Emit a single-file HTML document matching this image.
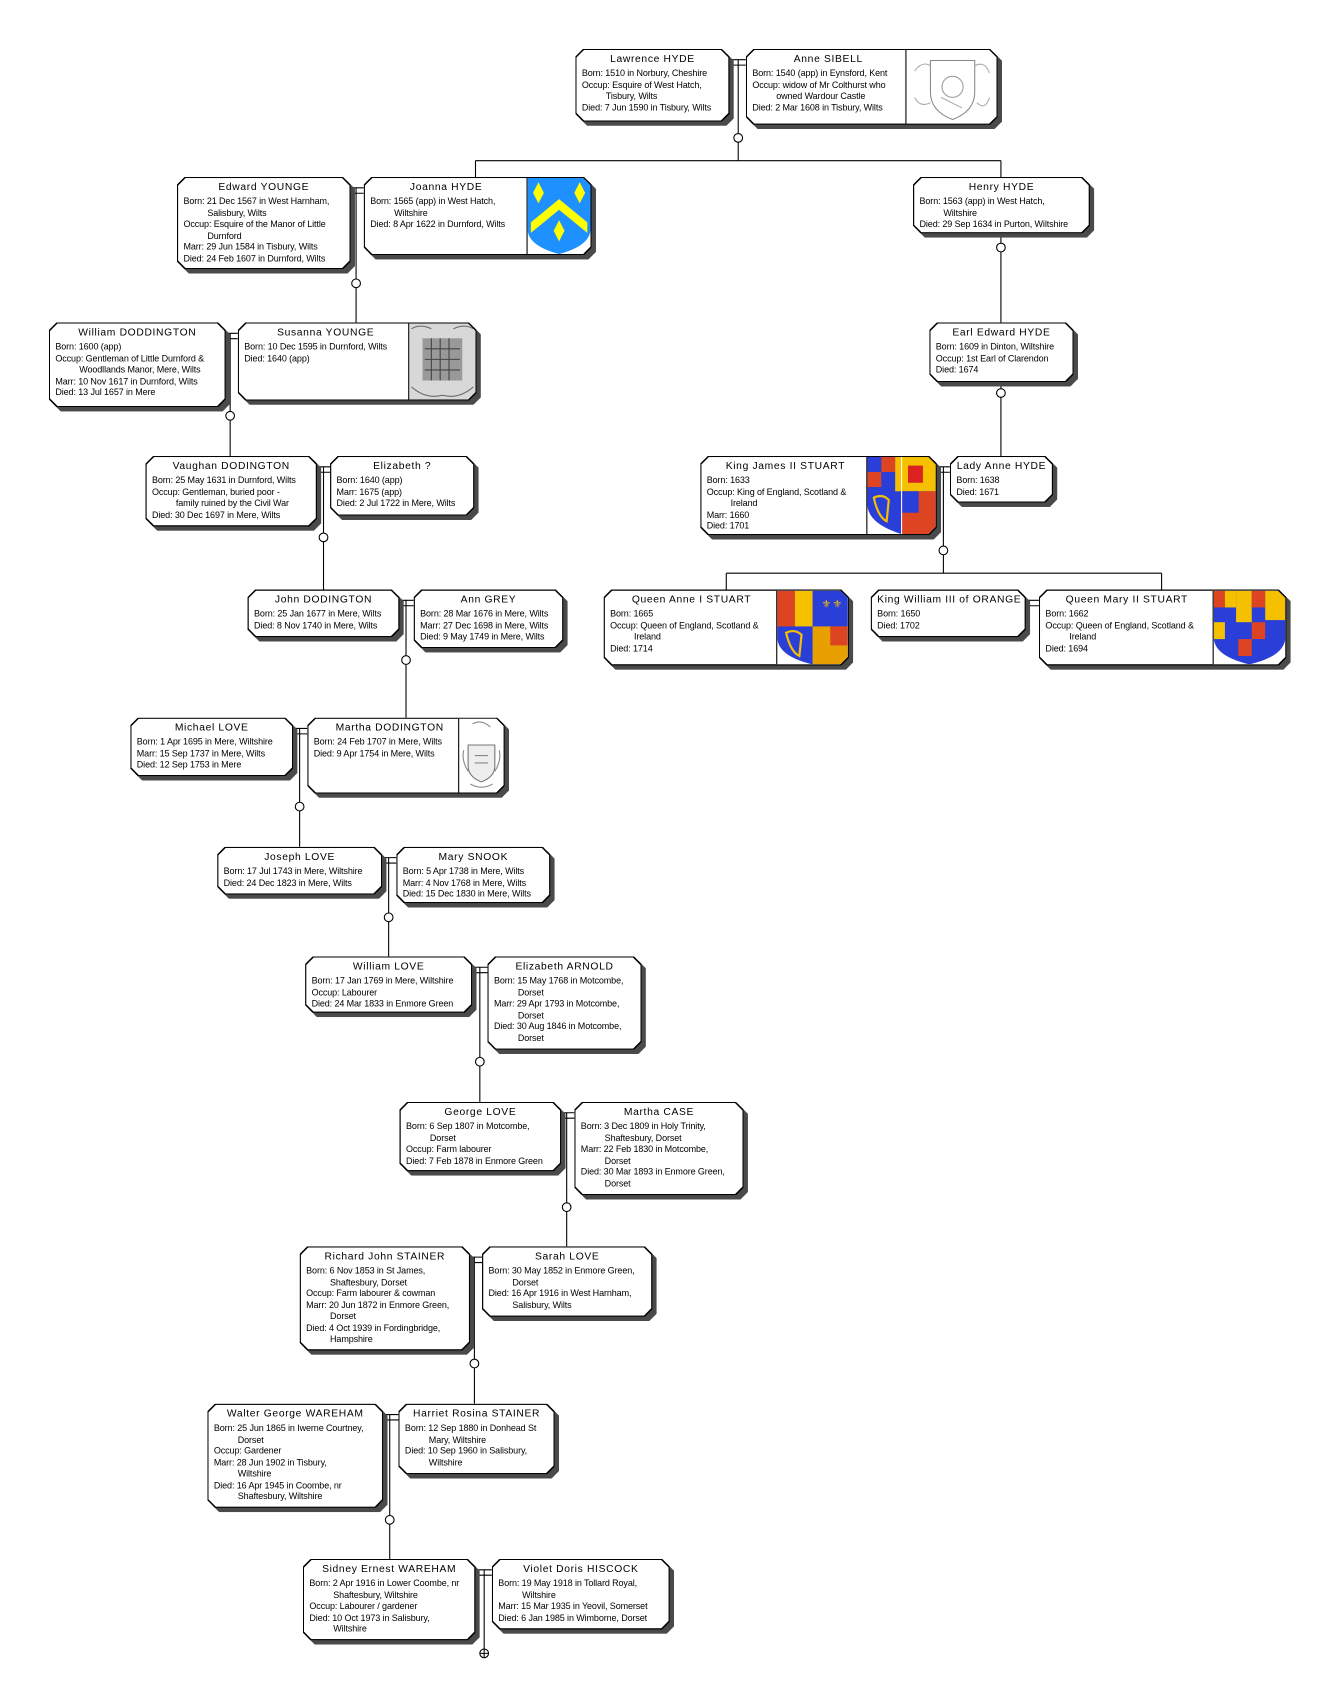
<!DOCTYPE html>
<html><head><meta charset="utf-8"><style>
body{margin:0;background:#fff;width:1332px;height:1702px;overflow:hidden}
#c{position:absolute;left:0;top:0;width:1227px;height:1568px;transform:scale(1.0856);transform-origin:0 0;font-family:"Liberation Sans",Arial,sans-serif;color:#000}
.w{position:absolute}
.s,.b,.i{position:absolute;clip-path:polygon(7px 0,calc(100% - 7px) 0,100% 7px,100% calc(100% - 7px),calc(100% - 7px) 100%,7px 100%,0 calc(100% - 7px),0 7px)}
.s{left:4px;top:4px;right:-4px;bottom:-4px;background:#4a4a4a}
.b{left:0;top:0;right:0;bottom:0;background:#000}
.i{left:1px;top:1px;right:1px;bottom:1px;background:#fff;padding:3px 5px;box-sizing:border-box}
.t{font-size:9.5px;letter-spacing:.6px;text-align:center;line-height:12px;margin-bottom:1px;white-space:nowrap}
.l{font-size:8.3px;line-height:10.5px;white-space:nowrap;letter-spacing:-.1px}
.c{padding-left:22px}
.im{position:absolute;top:0;right:0;bottom:0;border-left:1px solid #000;background:#fff;overflow:hidden}
.im svg{width:100%;height:100%}
svg.cn{position:absolute;left:0;top:0}
</style></head><body><div id="c">
<svg class="cn" width="1227" height="1568" fill="none" stroke="#000" stroke-width="1">
<!-- Lawrence/Anne -->
<path d="M672 55H687M672 60H687M680 55V123M680 131V148M438 148H922M438 148V163M922 148V163"/><circle cx="680" cy="127" r="4" fill="#fff"/>
<path d="M323 173H335M323 178H335M328 173V257M328 265V297"/><circle cx="328" cy="261" r="4" fill="#fff"/>
<path d="M208 307H219M208 312H219M212 307V379M212 387V420"/><circle cx="212" cy="383" r="4" fill="#fff"/>
<path d="M922 215V224M922 232V297"/><circle cx="922" cy="228" r="4" fill="#fff"/>
<path d="M922 352V358M922 366V420"/><circle cx="922" cy="362" r="4" fill="#fff"/>
<path d="M292 430H304M292 435H304M298 430V491M298 499V543"/><circle cx="298" cy="495" r="4" fill="#fff"/>
<path d="M863 430H875M863 435H875M869 430V503M869 511V528M669 528H1070M669 528V543M1070 528V543"/><circle cx="869" cy="507" r="4" fill="#fff"/>
<path d="M945 553H957M945 558H957"/>
<path d="M368 553H381M368 558H381M374 553V604M374 612V661"/><circle cx="374" cy="608" r="4" fill="#fff"/>
<path d="M270 671H283M270 676H283M276 671V739M276 747V780"/><circle cx="276" cy="743" r="4" fill="#fff"/>
<path d="M352 790H365M352 795H365M358 790V841M358 849V881"/><circle cx="358" cy="845" r="4" fill="#fff"/>
<path d="M435 891H449M435 896H449M442 891V974M442 982V1015"/><circle cx="442" cy="978" r="4" fill="#fff"/>
<path d="M517 1025H529M517 1030H529M522 1025V1108M522 1116V1148"/><circle cx="522" cy="1112" r="4" fill="#fff"/>
<path d="M433 1158H444M433 1163H444M437 1158V1252M437 1260V1293"/><circle cx="437" cy="1256" r="4" fill="#fff"/>
<path d="M353 1303H367M353 1308H367M359 1303V1396M359 1404V1436"/><circle cx="359" cy="1400" r="4" fill="#fff"/>
<path d="M438 1446H453M438 1451H453M446 1446V1519"/><circle cx="446" cy="1523" r="4" fill="#fff"/><path d="M442 1523H450M446 1519V1527"/>
</svg>

<div class="w" style="left:530px;top:45px;width:142px;height:67px"><div class="s"></div><div class="b"><div class="i">
<div class="t">Lawrence HYDE</div><div class="l">Born: 1510 in Norbury, Cheshire</div><div class="l">Occup: Esquire of West Hatch,</div><div class="l c">Tisbury, Wilts</div><div class="l">Died: 7 Jun 1590 in Tisbury, Wilts</div></div></div></div>

<div class="w" style="left:687px;top:45px;width:232px;height:70px"><div class="s"></div><div class="b"><div class="i">
<div class="t" style="width:140px">Anne SIBELL</div><div class="l">Born: 1540 (app) in Eynsford, Kent</div><div class="l">Occup: widow of Mr Colthurst who</div><div class="l c">owned Wardour Castle</div><div class="l">Died: 2 Mar 1608 in Tisbury, Wilts</div>
<div class="im" style="width:83px"><svg viewBox="0 0 80 70"><path d="M20 10H62V40Q62 58 41 66Q20 58 20 40Z" stroke="#888" fill="none"/><circle cx="41" cy="35" r="10" stroke="#999" fill="none"/><path d="M5 20Q12 10 20 15M62 15Q72 10 76 22M5 45Q10 55 20 50M64 50Q72 58 76 45M30 45L50 55" stroke="#aaa" fill="none"/></svg></div></div></div></div>

<div class="w" style="left:163px;top:163px;width:160px;height:85px"><div class="s"></div><div class="b"><div class="i">
<div class="t">Edward YOUNGE</div><div class="l">Born: 21 Dec 1567 in West Harnham,</div><div class="l c">Salisbury, Wilts</div><div class="l">Occup: Esquire of the Manor of Little</div><div class="l c">Durnford</div><div class="l">Marr: 29 Jun 1584 in Tisbury, Wilts</div><div class="l">Died: 24 Feb 1607 in Durnford, Wilts</div></div></div></div>

<div class="w" style="left:335px;top:163px;width:210px;height:72px"><div class="s"></div><div class="b"><div class="i">
<div class="t" style="width:140px">Joanna HYDE</div><div class="l">Born: 1565 (app) in West Hatch,</div><div class="l c">Wiltshire</div><div class="l">Died: 8 Apr 1622 in Durnford, Wilts</div>
<div class="im" style="width:58px"><svg viewBox="0 0 58 72" preserveAspectRatio="none"><path d="M0 0H58V48Q58 64 29 72Q0 64 0 48Z" fill="#1e90ff"/><path d="M3 42L29 20L55 42L55 52L29 30L3 52Z" fill="#ff0"/><path d="M10 4L15 14L10 24L5 14Z M48 4L53 14L48 24L43 14Z M29 40L34 50L29 60L24 50Z" fill="#ff0"/></svg></div></div></div></div>

<div class="w" style="left:841px;top:163px;width:163px;height:52px"><div class="s"></div><div class="b"><div class="i">
<div class="t">Henry HYDE</div><div class="l">Born: 1563 (app) in West Hatch,</div><div class="l c">Wiltshire</div><div class="l">Died: 29 Sep 1634 in Purton, Wiltshire</div></div></div></div>

<div class="w" style="left:45px;top:297px;width:163px;height:78px"><div class="s"></div><div class="b"><div class="i">
<div class="t">William DODDINGTON</div><div class="l">Born: 1600 (app)</div><div class="l">Occup: Gentleman of Little Durnford &amp;</div><div class="l c">Woodllands Manor, Mere, Wilts</div><div class="l">Marr: 10 Nov 1617 in Durnford, Wilts</div><div class="l">Died: 13 Jul 1657 in Mere</div></div></div></div>

<div class="w" style="left:219px;top:297px;width:220px;height:72px"><div class="s"></div><div class="b"><div class="i">
<div class="t" style="width:150px">Susanna YOUNGE</div><div class="l">Born: 10 Dec 1595 in Durnford, Wilts</div><div class="l">Died: 1640 (app)</div>
<div class="im" style="width:61px"><svg viewBox="0 0 60 72" preserveAspectRatio="none"><rect width="60" height="72" fill="#d8d8d8"/><rect x="12" y="14" width="36" height="40" fill="#999"/><path d="M14 24h32M14 34h32M14 44h32M20 14v40M28 14v40M36 14v40" stroke="#444"/><path d="M2 5Q10 0 20 5M40 5Q50 0 58 5M2 60Q15 72 30 68Q45 72 58 60" stroke="#666" fill="none"/></svg></div></div></div></div>

<div class="w" style="left:856px;top:297px;width:133px;height:55px"><div class="s"></div><div class="b"><div class="i">
<div class="t">Earl Edward HYDE</div><div class="l">Born: 1609 in Dinton, Wiltshire</div><div class="l">Occup: 1st Earl of Clarendon</div><div class="l">Died: 1674</div></div></div></div>

<div class="w" style="left:134px;top:420px;width:158px;height:65px"><div class="s"></div><div class="b"><div class="i">
<div class="t">Vaughan DODINGTON</div><div class="l">Born: 25 May 1631 in Durnford, Wilts</div><div class="l">Occup: Gentleman, buried poor -</div><div class="l c">family ruined by the Civil War</div><div class="l">Died: 30 Dec 1697 in Mere, Wilts</div></div></div></div>

<div class="w" style="left:304px;top:420px;width:133px;height:55px"><div class="s"></div><div class="b"><div class="i">
<div class="t">Elizabeth ?</div><div class="l">Born: 1640 (app)</div><div class="l">Marr: 1675 (app)</div><div class="l">Died: 2 Jul 1722 in Mere, Wilts</div></div></div></div>

<div class="w" style="left:645px;top:420px;width:218px;height:73px"><div class="s"></div><div class="b"><div class="i">
<div class="t" style="width:145px">King James II STUART</div><div class="l">Born: 1633</div><div class="l">Occup: King of England, Scotland &amp;</div><div class="l c">Ireland</div><div class="l">Marr: 1660</div><div class="l">Died: 1701</div>
<div class="im" style="width:63px"><svg viewBox="0 0 64 72" preserveAspectRatio="none"><path d="M0 0H64V44Q64 62 32 72Q0 62 0 44Z" fill="#2a3fd8"/><rect x="0" y="0" width="13" height="14" fill="#2a3fd8"/><rect x="13" y="0" width="13" height="14" fill="#d42"/><rect x="0" y="14" width="13" height="14" fill="#d42"/><rect x="26" y="0" width="38" height="32" fill="#f5c000"/><path d="M38 8h14v16h-14z" fill="#d22"/><rect x="32" y="32" width="32" height="40" fill="#d42"/><rect x="32" y="32" width="16" height="20" fill="#2a3fd8"/><path d="M6 38Q14 34 20 40L18 60Q10 56 6 38Z" stroke="#f5c000" fill="none" stroke-width="2"/><path d="M32 72V0" stroke="#fff"/></svg></div></div></div></div>

<div class="w" style="left:875px;top:420px;width:95px;height:43px"><div class="s"></div><div class="b"><div class="i">
<div class="t">Lady Anne HYDE</div><div class="l">Born: 1638</div><div class="l">Died: 1671</div></div></div></div>

<div class="w" style="left:228px;top:543px;width:140px;height:44px"><div class="s"></div><div class="b"><div class="i">
<div class="t">John DODINGTON</div><div class="l">Born: 25 Jan 1677 in Mere, Wilts</div><div class="l">Died: 8 Nov 1740 in Mere, Wilts</div></div></div></div>

<div class="w" style="left:381px;top:543px;width:138px;height:54px"><div class="s"></div><div class="b"><div class="i">
<div class="t">Ann GREY</div><div class="l">Born: 28 Mar 1676 in Mere, Wilts</div><div class="l">Marr: 27 Dec 1698 in Mere, Wilts</div><div class="l">Died: 9 May 1749 in Mere, Wilts</div></div></div></div>

<div class="w" style="left:556px;top:543px;width:226px;height:70px"><div class="s"></div><div class="b"><div class="i">
<div class="t" style="width:150px">Queen Anne I STUART</div><div class="l">Born: 1665</div><div class="l">Occup: Queen of England, Scotland &amp;</div><div class="l c">Ireland</div><div class="l">Died: 1714</div>
<div class="im" style="width:65px"><svg viewBox="0 0 64 70" preserveAspectRatio="none"><path d="M0 0H64V44Q64 62 32 70Q0 62 0 44Z" fill="#2a3fd8"/><rect x="0" y="0" width="16" height="34" fill="#d42"/><rect x="16" y="0" width="16" height="34" fill="#f5c000"/><rect x="32" y="34" width="32" height="36" fill="#e8a000"/><rect x="48" y="34" width="16" height="18" fill="#d42"/><path d="M8 40Q16 36 22 42L20 62Q12 58 8 40Z" stroke="#f5c000" fill="none" stroke-width="2"/><text x="40" y="16" font-size="10" fill="#f5c000">⚜</text><text x="50" y="16" font-size="10" fill="#f5c000">⚜</text></svg></div></div></div></div>

<div class="w" style="left:802px;top:543px;width:143px;height:44px"><div class="s"></div><div class="b"><div class="i">
<div class="t" style="text-align:left">King William III of ORANGE</div><div class="l">Born: 1650</div><div class="l">Died: 1702</div></div></div></div>

<div class="w" style="left:957px;top:543px;width:228px;height:70px"><div class="s"></div><div class="b"><div class="i">
<div class="t" style="width:150px">Queen Mary II STUART</div><div class="l">Born: 1662</div><div class="l">Occup: Queen of England, Scotland &amp;</div><div class="l c">Ireland</div><div class="l">Died: 1694</div>
<div class="im" style="width:66px"><svg viewBox="0 0 64 70" preserveAspectRatio="none"><path d="M0 0H64V44Q64 62 32 70Q0 62 0 44Z" fill="#2a3fd8"/><rect x="0" y="0" width="10" height="16" fill="#d42"/><rect x="10" y="0" width="10" height="16" fill="#f5c000"/><rect x="20" y="0" width="14" height="30" fill="#f5c000"/><rect x="34" y="0" width="12" height="16" fill="#d42"/><rect x="46" y="0" width="18" height="28" fill="#f5c000"/><rect x="0" y="30" width="10" height="16" fill="#f5c000"/><rect x="34" y="30" width="12" height="16" fill="#d42"/><rect x="22" y="46" width="12" height="16" fill="#d42"/></svg></div></div></div></div>

<div class="w" style="left:120px;top:661px;width:150px;height:54px"><div class="s"></div><div class="b"><div class="i">
<div class="t">Michael LOVE</div><div class="l">Born: 1 Apr 1695 in Mere, Wiltshire</div><div class="l">Marr: 15 Sep 1737 in Mere, Wilts</div><div class="l">Died: 12 Sep 1753 in Mere</div></div></div></div>

<div class="w" style="left:283px;top:661px;width:182px;height:70px"><div class="s"></div><div class="b"><div class="i">
<div class="t" style="width:140px">Martha DODINGTON</div><div class="l">Born: 24 Feb 1707 in Mere, Wilts</div><div class="l">Died: 9 Apr 1754 in Mere, Wilts</div>
<div class="im" style="width:41px"><svg viewBox="0 0 40 70" preserveAspectRatio="none"><path d="M8 25H32V45Q32 55 20 60Q8 55 8 45Z" stroke="#777" fill="#eee"/><path d="M12 5Q20 0 28 8M4 30Q2 40 8 50M36 30Q38 40 32 50M10 62Q20 68 30 62M14 35h12M14 42h12" stroke="#888" fill="none"/></svg></div></div></div></div>

<div class="w" style="left:200px;top:780px;width:152px;height:44px"><div class="s"></div><div class="b"><div class="i">
<div class="t">Joseph LOVE</div><div class="l">Born: 17 Jul 1743 in Mere, Wiltshire</div><div class="l">Died: 24 Dec 1823 in Mere, Wilts</div></div></div></div>

<div class="w" style="left:365px;top:780px;width:142px;height:52px"><div class="s"></div><div class="b"><div class="i">
<div class="t">Mary SNOOK</div><div class="l">Born: 5 Apr 1738 in Mere, Wilts</div><div class="l">Marr: 4 Nov 1768 in Mere, Wilts</div><div class="l">Died: 15 Dec 1830 in Mere, Wilts</div></div></div></div>

<div class="w" style="left:281px;top:881px;width:154px;height:52px"><div class="s"></div><div class="b"><div class="i">
<div class="t">William LOVE</div><div class="l">Born: 17 Jan 1769 in Mere, Wiltshire</div><div class="l">Occup: Labourer</div><div class="l">Died: 24 Mar 1833 in Enmore Green</div></div></div></div>

<div class="w" style="left:449px;top:881px;width:142px;height:86px"><div class="s"></div><div class="b"><div class="i">
<div class="t">Elizabeth ARNOLD</div><div class="l">Born: 15 May 1768 in Motcombe,</div><div class="l c">Dorset</div><div class="l">Marr: 29 Apr 1793 in Motcombe,</div><div class="l c">Dorset</div><div class="l">Died: 30 Aug 1846 in Motcombe,</div><div class="l c">Dorset</div></div></div></div>

<div class="w" style="left:368px;top:1015px;width:149px;height:64px"><div class="s"></div><div class="b"><div class="i">
<div class="t">George LOVE</div><div class="l">Born: 6 Sep 1807 in Motcombe,</div><div class="l c">Dorset</div><div class="l">Occup: Farm labourer</div><div class="l">Died: 7 Feb 1878 in Enmore Green</div></div></div></div>

<div class="w" style="left:529px;top:1015px;width:156px;height:86px"><div class="s"></div><div class="b"><div class="i">
<div class="t">Martha CASE</div><div class="l">Born: 3 Dec 1809 in Holy Trinity,</div><div class="l c">Shaftesbury, Dorset</div><div class="l">Marr: 22 Feb 1830 in Motcombe,</div><div class="l c">Dorset</div><div class="l">Died: 30 Mar 1893 in Enmore Green,</div><div class="l c">Dorset</div></div></div></div>

<div class="w" style="left:276px;top:1148px;width:157px;height:96px"><div class="s"></div><div class="b"><div class="i">
<div class="t">Richard John STAINER</div><div class="l">Born: 6 Nov 1853 in St James,</div><div class="l c">Shaftesbury, Dorset</div><div class="l">Occup: Farm labourer &amp; cowman</div><div class="l">Marr: 20 Jun 1872 in Enmore Green,</div><div class="l c">Dorset</div><div class="l">Died: 4 Oct 1939 in Fordingbridge,</div><div class="l c">Hampshire</div></div></div></div>

<div class="w" style="left:444px;top:1148px;width:157px;height:65px"><div class="s"></div><div class="b"><div class="i">
<div class="t">Sarah LOVE</div><div class="l">Born: 30 May 1852 in Enmore Green,</div><div class="l c">Dorset</div><div class="l">Died: 16 Apr 1916 in West Harnham,</div><div class="l c">Salisbury, Wilts</div></div></div></div>

<div class="w" style="left:191px;top:1293px;width:162px;height:96px"><div class="s"></div><div class="b"><div class="i">
<div class="t">Walter George WAREHAM</div><div class="l">Born: 25 Jun 1865 in Iwerne Courtney,</div><div class="l c">Dorset</div><div class="l">Occup: Gardener</div><div class="l">Marr: 28 Jun 1902 in Tisbury,</div><div class="l c">Wiltshire</div><div class="l">Died: 16 Apr 1945 in Coombe, nr</div><div class="l c">Shaftesbury, Wiltshire</div></div></div></div>

<div class="w" style="left:367px;top:1293px;width:144px;height:65px"><div class="s"></div><div class="b"><div class="i">
<div class="t">Harriet Rosina STAINER</div><div class="l">Born: 12 Sep 1880 in Donhead St</div><div class="l c">Mary, Wiltshire</div><div class="l">Died: 10 Sep 1960 in Salisbury,</div><div class="l c">Wiltshire</div></div></div></div>

<div class="w" style="left:279px;top:1436px;width:159px;height:75px"><div class="s"></div><div class="b"><div class="i">
<div class="t">Sidney Ernest WAREHAM</div><div class="l">Born: 2 Apr 1916 in Lower Coombe, nr</div><div class="l c">Shaftesbury, Wiltshire</div><div class="l">Occup: Labourer / gardener</div><div class="l">Died: 10 Oct 1973 in Salisbury,</div><div class="l c">Wiltshire</div></div></div></div>

<div class="w" style="left:453px;top:1436px;width:164px;height:65px"><div class="s"></div><div class="b"><div class="i">
<div class="t">Violet Doris HISCOCK</div><div class="l">Born: 19 May 1918 in Tollard Royal,</div><div class="l c">Wiltshire</div><div class="l">Marr: 15 Mar 1935 in Yeovil, Somerset</div><div class="l">Died: 6 Jan 1985 in Wimborne, Dorset</div></div></div></div>
</div></body></html>
